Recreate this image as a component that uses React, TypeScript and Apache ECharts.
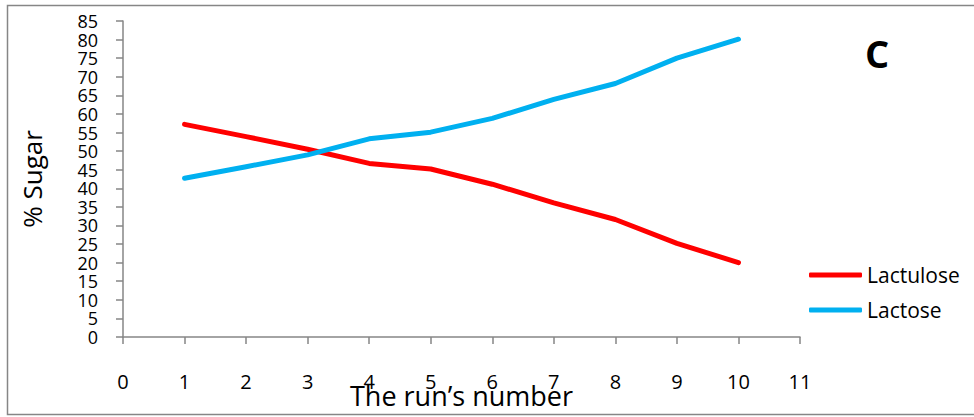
import React, { useEffect, useRef } from "react";
import * as echarts from "echarts";

const runs = [1, 2, 3, 4, 5, 6, 7, 8, 9, 10];
const lactulose = [57.2, 53.9, 50.5, 46.7, 45.2, 41.1, 36.1, 31.6, 25.2, 20.0];
const lactose = [42.7, 45.8, 49.0, 53.3, 55.1, 58.8, 63.9, 68.2, 75.0, 80.1];
const seriesNames = ["Lactulose", "Lactose"];
const panelLetter = "C";
const xAxisTitle = "The run\u2019s number";
const yAxisTitle = "% Sugar";

const FONT = "'Open Sans', 'Noto Sans', sans-serif";
const AXIS_COLOR = "#868686";

export default function App() {
  const ref = useRef<HTMLDivElement>(null);
  useEffect(() => {
    if (!ref.current) return;
    const chart = echarts.init(ref.current, undefined, { renderer: "svg" });
    const axisLine = { show: true, lineStyle: { color: AXIS_COLOR, width: 1.5 } };
    const axisTick = { show: true, inside: false, length: 7, lineStyle: { color: AXIS_COLOR, width: 1.5 } };
    chart.setOption({
      animation: false,
      backgroundColor: "#ffffff",
      grid: {
        left: 123,
        right: 174,
        top: 21,
        bottom: 80,
        containLabel: false,
        outerBoundsMode: "none",
      },
      xAxis: {
        type: "value",
        min: 0,
        max: 11,
        interval: 1,
        axisLine,
        axisTick,
        splitLine: { show: false },
        axisLabel: {
          color: "#000",
          fontSize: 20,
          fontFamily: FONT,
          margin: 34,
          showMinLabel: true,
          showMaxLabel: true,
        },
        name: xAxisTitle,
        nameLocation: "middle",
        nameGap: 45,
        nameMoveOverlap: false,
        nameTextStyle: { color: "#000", fontSize: 27, fontFamily: FONT },
      },
      yAxis: {
        type: "value",
        min: 0,
        max: 85,
        interval: 5,
        axisLine,
        axisTick,
        splitLine: { show: false },
        axisLabel: {
          color: "#000",
          fontSize: 18,
          fontFamily: FONT,
          margin: 25,
          lineHeight: 18,
          showMinLabel: true,
          showMaxLabel: true,
          hideOverlap: false,
        },
        name: yAxisTitle,
        nameLocation: "middle",
        nameGap: 78,
        nameMoveOverlap: false,
        nameTextStyle: { color: "#000", fontSize: 26, fontFamily: FONT },
      },
      legend: {
        orient: "vertical",
        left: 809,
        top: 263,
        padding: 0,
        icon: "roundRect",
        itemWidth: 53,
        itemHeight: 5,
        itemGap: 11,
        textStyle: { color: "#000", fontSize: 21, fontFamily: FONT, lineHeight: 24 },
        data: seriesNames,
      },
      graphic: [
        {
          type: "rect",
          shape: { x: 7.5, y: 5.5, width: 1000, height: 409 },
          style: { fill: "none", stroke: AXIS_COLOR, lineWidth: 1.5 },
          silent: true,
        },
        {
          type: "text",
          x: 877,
          y: 53,
          style: {
            text: panelLetter,
            fill: "#000",
            font: `bold 38px ${FONT}`,
            align: "center",
            verticalAlign: "middle",
          },
        },
      ],
      series: [
        {
          name: seriesNames[0],
          type: "line",
          data: runs.map((r, i) => [r, lactulose[i]]),
          showSymbol: false,
          symbol: "none",
          itemStyle: { color: "#FF0000" },
          lineStyle: { color: "#FF0000", width: 5, cap: "round", join: "round" },
        },
        {
          name: seriesNames[1],
          type: "line",
          data: runs.map((r, i) => [r, lactose[i]]),
          showSymbol: false,
          symbol: "none",
          itemStyle: { color: "#00B0F0" },
          lineStyle: { color: "#00B0F0", width: 5, cap: "round", join: "round" },
        },
      ],
    });
    return () => chart.dispose();
  }, []);
  return (
    <div
      ref={ref}
      style={{ position: "fixed", left: 0, top: 0, width: 974, height: 417 }}
    />
  );
}
